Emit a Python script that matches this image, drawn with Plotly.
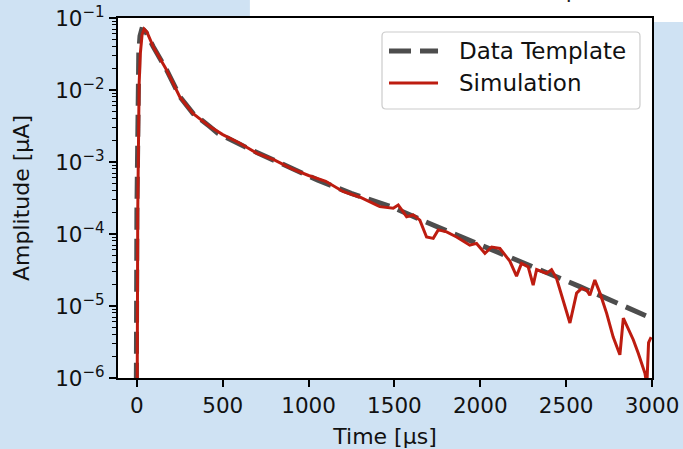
import plotly.graph_objects as go

# Data Template (dashed)
tmpl_x = [-6, -3, 0, 3, 6, 11, 18, 28, 40, 55, 95, 173, 250, 328, 425, 472, 666, 860, 1054,
          1248, 1481, 1725, 1957, 2230, 2580, 3000]
tmpl_y = [3e-7, 1e-6, 2e-4, 3.5e-3, 1.2e-2, 3.2e-2, 5.6e-2, 6.9e-2, 6.8e-2, 6.2e-2, 4.0e-2,
          1.9e-2, 8.1e-3, 4.7e-3, 3.1e-3, 2.5e-3, 1.47e-3, 9.1e-4, 5.6e-4,
          3.67e-4, 2.4e-4, 1.33e-4, 7.8e-5, 4.1e-5, 1.86e-5, 6.7e-6]

# Simulation (solid red)
sim_x = [0, 2, 5, 8, 13, 20, 30, 42, 58, 95, 173, 250, 328, 425, 500, 600, 700, 800, 900,
         1000, 1100, 1200, 1300, 1400, 1415, 1493, 1522, 1571, 1609, 1648, 1687, 1726,
         1755, 1804, 1862, 1939, 1978, 2027, 2066, 2114, 2172, 2211, 2240, 2279, 2308,
         2328, 2386, 2415, 2444, 2522, 2561, 2590, 2620, 2638, 2667, 2697, 2736, 2774,
         2813, 2833, 2862, 2891, 2920, 2959, 2970, 2980, 2995]
sim_y = [3e-7, 1e-6, 2e-4, 3.5e-3, 1.2e-2, 3.2e-2, 5.8e-2, 7.0e-2, 6.4e-2, 4.0e-2, 1.9e-2,
         8.0e-3, 4.7e-3, 3.1e-3, 2.4e-3, 1.82e-3, 1.32e-3, 1.07e-3, 8.1e-4,
         6.5e-4, 5.4e-4, 3.9e-4, 3.24e-4, 2.5e-4, 2.4e-4, 2.28e-4, 2.53e-4, 1.74e-4, 1.84e-4,
         1.56e-4, 9.1e-5, 8.7e-5, 1.14e-4, 1.07e-4, 9.1e-5, 7.0e-5, 7.4e-5, 5.4e-5, 6.6e-5,
         6.3e-5, 4.2e-5, 2.6e-5, 3.9e-5, 3.5e-5, 1.95e-5, 3.2e-5, 2.84e-5, 3.2e-5, 2.43e-5,
         5.8e-6, 1.51e-5, 1.76e-5, 1.66e-5, 1.41e-5, 2.29e-5, 1.51e-5, 7.9e-6, 3.7e-6,
         2.1e-6, 6.8e-6, 4.7e-6, 3.4e-6, 2.2e-6, 1.16e-6, 8e-7, 3.1e-6, 3.7e-6]

series_names = ["Data Template", "Simulation"]
x_ticks = [0, 500, 1000, 1500, 2000, 2500, 3000]
y_ticks = [1e-6, 1e-5, 1e-4, 1e-3, 1e-2, 1e-1]
y_ticktext = ["10<sup>\u22126</sup>", "10<sup>\u22125</sup>", "10<sup>\u22124</sup>",
              "10<sup>\u22123</sup>", "10<sup>\u22122</sup>", "10<sup>\u22121</sup>"]
y_minor = [m * 10 ** e for e in range(-6, -1) for m in range(2, 10)]
cut_title = "Template"  # only the bottom edge of this slide text is visible at the top

FONT = "DejaVu Sans"
BLUE = "#cfe2f3"
GRAY = "#4d4d4d"
RED = "#bd1c10"
DASH = "22px,9px"

fig = go.Figure()
fig.add_trace(go.Scatter(x=tmpl_x, y=tmpl_y, mode="lines", name=series_names[0],
                         line=dict(color=GRAY, width=5, dash=DASH)))
fig.add_trace(go.Scatter(x=sim_x, y=sim_y, mode="lines", name=series_names[1],
                         line=dict(color=RED, width=3)))

# legend drawn as a box in paper coordinates (matplotlib style)
L, R, B, T = 0.4944, 0.9775, 0.7472, 0.9611
rx, ry = 0.0075, 0.0111
legend_path = (f"M{L+rx},{B} L{R-rx},{B} Q{R},{B} {R},{B+ry} L{R},{T-ry} Q{R},{T} {R-rx},{T} "
               f"L{L+rx},{T} Q{L},{T} {L},{T-ry} L{L},{B+ry} Q{L},{B} {L+rx},{B} Z")
row_y = [0.9083, 0.8194]
shapes = [
    dict(type="rect", xref="paper", yref="paper", x0=0.247, x1=1.07, y0=0.989, y1=1.07,
         fillcolor="white", line=dict(width=0), layer="below"),
    dict(type="path", xref="paper", yref="paper", path=legend_path, fillcolor="white",
         line=dict(color="#cccccc", width=1.2), layer="above"),
    dict(type="line", xref="paper", yref="paper", x0=0.5075, x1=0.5993, y0=row_y[0],
         y1=row_y[0], line=dict(color=GRAY, width=5, dash=DASH)),
    dict(type="line", xref="paper", yref="paper", x0=0.5075, x1=0.5993, y0=row_y[1],
         y1=row_y[1], line=dict(color=RED, width=3)),
]
annotations = [dict(xref="paper", yref="paper", x=0.6348, y=yy, text=nm, showarrow=False,
                    xanchor="left", yanchor="middle", font=dict(size=23, family=FONT))
               for nm, yy in zip(series_names, row_y)]
annotations.append(dict(xref="paper", yref="paper", x=0.749, y=1.037, text=cut_title,
                        showarrow=False, xanchor="left", yanchor="bottom",
                        font=dict(size=22, family=FONT, color="#222222")))

fig.update_layout(
    width=683, height=449,
    margin=dict(l=118, r=31, t=18, b=71, autoexpand=False),
    paper_bgcolor=BLUE, plot_bgcolor="white",
    font=dict(family=FONT, size=21, color="#111111"),
    showlegend=False,
    shapes=shapes, annotations=annotations,
)
fig.update_xaxes(range=[-110, 3000], tickvals=x_ticks, ticks="outside", ticklen=7,
                 tickwidth=1.5, tickcolor="black", showline=True, linecolor="black",
                 linewidth=2, mirror=True, showgrid=False, zeroline=False,
                 automargin=False, tickfont=dict(size=21.5),
                 title=dict(text="Time [\u03bcs]", standoff=14, font=dict(size=22)))
fig.update_yaxes(type="log", range=[-6, -1], tickvals=y_ticks, ticktext=y_ticktext,
                 ticks="outside", ticklen=7, tickwidth=1.5, tickcolor="black",
                 minor=dict(tickvals=y_minor, ticks="outside", ticklen=4, tickwidth=1,
                            tickcolor="black", showgrid=False),
                 showline=True, linecolor="black", linewidth=2, mirror=True,
                 showgrid=False, zeroline=False, automargin=False,
                 tickfont=dict(size=21.5),
                 title=dict(text="Amplitude [\u03bcA]", standoff=19, font=dict(size=22)))

fig.write_html("out.html")
